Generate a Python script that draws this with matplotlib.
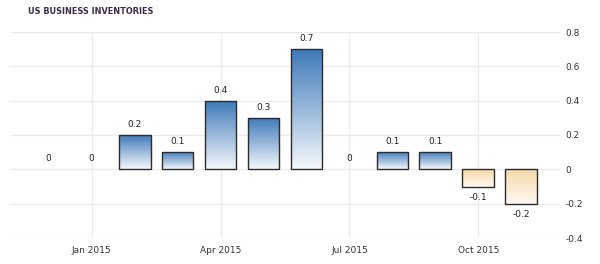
import numpy as np
import matplotlib

matplotlib.use('agg')
import matplotlib.pyplot as plt
from matplotlib.colors import LinearSegmentedColormap

months = ["Dec 2014", "Jan 2015", "Feb 2015", "Mar 2015", "Apr 2015", "May 2015",
          "Jun 2015", "Jul 2015", "Aug 2015", "Sep 2015", "Oct 2015", "Nov 2015"]
values = [0, 0, 0.2, 0.1, 0.4, 0.3, 0.7, 0, 0.1, 0.1, -0.1, -0.2]
tick_labels = ["Jan 2015", "Apr 2015", "Jul 2015", "Oct 2015"]
tick_months = ["Jan 2015", "Apr 2015", "Jul 2015", "Oct 2015"]
y_ticks = [-0.4, -0.2, 0, 0.2, 0.4, 0.6, 0.8]

blue_cmap = LinearSegmentedColormap.from_list("pos", ["#f4f8fc", "#3d78b8"])
orange_cmap = LinearSegmentedColormap.from_list("neg", ["#fffaf2", "#f6d8a8"])

fig = plt.figure(figsize=(6, 2.64), dpi=100)
ax = fig.add_axes([10 / 600, 1 - 238 / 264, 550 / 600, 206 / 264])

x = np.arange(len(values))
bars = ax.bar(x, values, width=0.74, edgecolor="#2b2b2b", linewidth=1.0,
              facecolor="none", zorder=3)

grad = np.linspace(0, 1, 256).reshape(-1, 1)
for b, v in zip(bars, values):
    if v == 0:
        # nothing to draw for a zero month, only the label
        b.set_linewidth(0)
        continue
    x0, y0 = b.get_x(), b.get_y()
    w, h = b.get_width(), b.get_height()
    cmap = blue_cmap if v > 0 else orange_cmap
    im = ax.imshow(grad, cmap=cmap, origin="lower", aspect="auto",
                   extent=[x0, x0 + w, min(y0, y0 + h), max(y0, y0 + h)],
                   zorder=2)
    im.set_clip_path(b)

for xi, v in zip(x, values):
    label = "0" if v == 0 else "%g" % v
    if v >= 0:
        ax.text(xi, v + 0.035, label, ha="center", va="bottom",
                fontsize=6.5, color="#222222")
    else:
        ax.text(xi, v - 0.035, label, ha="center", va="top",
                fontsize=6.5, color="#222222")

ax.set_xlim(-0.9, 11.9)
ax.set_ylim(-0.4, 0.8)
ax.set_xticks([months.index(m) for m in tick_months])
ax.set_xticklabels(tick_labels)
ax.set_yticks(y_ticks)
ax.set_yticklabels(["%g" % t if t != 0 else "0" for t in y_ticks])
ax.yaxis.tick_right()
ax.tick_params(axis="both", length=0, labelsize=6.5, colors="#333333")
ax.tick_params(axis="x", pad=6)
ax.tick_params(axis="y", pad=4)
ax.grid(True, color="#ebebeb", linewidth=1.0, zorder=0)
ax.set_axisbelow(True)
for s in ax.spines.values():
    s.set_visible(False)

fig.text(28 / 600, 1 - 12 / 264, "US BUSINESS INVENTORIES", fontsize=6.5,
         fontweight="bold", color="#3b2d4a", va="center", ha="left",
         family="DejaVu Sans", fontstretch="condensed")

fig.savefig("out.png", dpi=100)
